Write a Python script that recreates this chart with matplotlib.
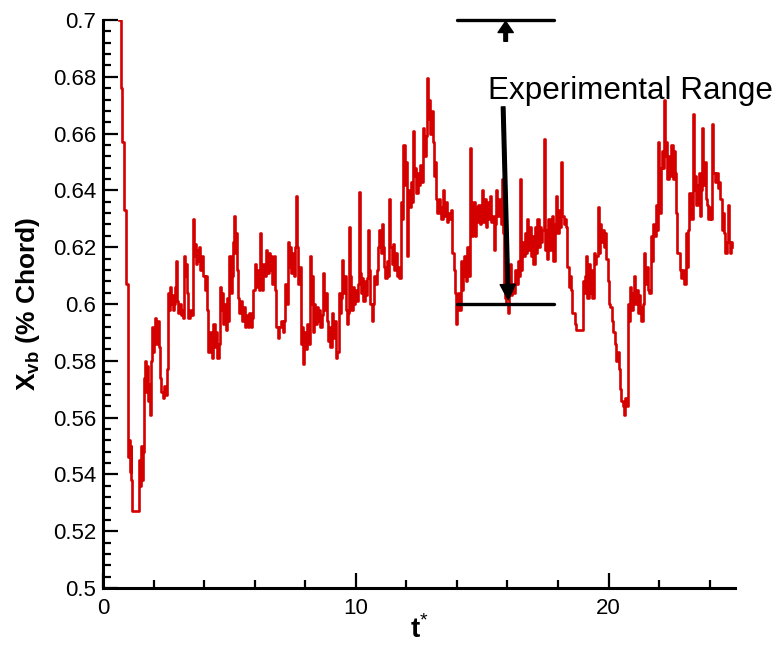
import numpy as np
import matplotlib
matplotlib.use("Agg")
import matplotlib.pyplot as plt

plt.rcParams['font.family'] = ['Liberation Sans', 'DejaVu Sans']
plt.rcParams['mathtext.fontset'] = 'custom'
plt.rcParams['mathtext.rm'] = 'Liberation Sans'
plt.rcParams['mathtext.bf'] = 'Liberation Sans:bold'

# vortex breakdown location vs non-dimensional time
t_star = [
    0.65, 0.70, 0.76, 0.84, 0.92, 0.99,
    1.03, 1.06, 1.09, 1.12, 1.15, 1.42, 1.46, 1.50, 1.54, 1.58,
    1.62, 1.66, 1.70, 1.74, 1.78, 1.82, 1.86, 1.90, 1.94, 1.98,
    2.02, 2.06, 2.10, 2.14, 2.18, 2.22, 2.26, 2.30, 2.36, 2.42, 2.48, 2.53,
    2.57, 2.61, 2.65, 2.69, 2.73, 2.77, 2.81, 2.86, 2.89, 2.93, 2.97,
    3.02, 3.07, 3.12, 3.17, 3.20, 3.24, 3.28, 3.33, 3.38, 3.44, 3.50,
    3.56, 3.60, 3.64, 3.68, 3.72, 3.76, 3.80, 3.85, 3.90, 3.96, 4.02, 4.07, 4.12,
    4.17, 4.22, 4.27, 4.32, 4.37, 4.42, 4.47, 4.52, 4.58, 4.63, 4.67, 4.71, 4.75, 4.80, 4.85,
    4.90, 4.95, 5.00, 5.05, 5.10, 5.15, 5.20, 5.24, 5.28, 5.32,
    5.36, 5.40, 5.45, 5.50, 5.55, 5.60, 5.66, 5.72, 5.78, 5.84, 5.90,
    5.95, 6.00, 6.05, 6.10, 6.16, 6.20, 6.25, 6.30, 6.35, 6.40, 6.45,
    6.50, 6.55, 6.60, 6.65, 6.70, 6.75, 6.80, 6.86, 6.92, 6.97,
    7.05, 7.12, 7.18, 7.22, 7.27, 7.32, 7.36, 7.40, 7.45, 7.50, 7.55, 7.60,
    7.64, 7.68, 7.72, 7.77, 7.82, 7.87, 7.92, 7.97, 8.02, 8.07, 8.12,
    8.18, 8.22, 8.26, 8.30, 8.35, 8.40, 8.45, 8.50, 8.55, 8.60, 8.65,
    8.70, 8.75, 8.80, 8.85, 8.90, 8.95, 9.00, 9.05, 9.10, 9.15, 9.20, 9.27,
    9.32, 9.36, 9.40, 9.46, 9.50, 9.55, 9.60, 9.65, 9.70,
    9.75, 9.79, 9.83, 9.88, 9.93, 9.98, 10.03, 10.08,
    10.12, 10.16, 10.20, 10.25, 10.30, 10.35, 10.40, 10.45, 10.49, 10.53,
    10.58, 10.63, 10.68, 10.73, 10.78, 10.83, 10.88, 10.93, 10.98, 11.03, 11.07,
    11.12, 11.17, 11.22, 11.27, 11.33, 11.37, 11.42, 11.47, 11.52, 11.57,
    11.62, 11.67, 11.72, 11.77, 11.82, 11.88, 11.93, 11.98, 12.03, 12.08, 12.13,
    12.18, 12.23, 12.27, 12.31, 12.36, 12.40, 12.45, 12.50, 12.55, 12.60,
    12.66, 12.71, 12.76, 12.82, 12.86, 12.90, 12.95, 13.00,
    13.04, 13.09, 13.14, 13.18, 13.23, 13.28, 13.33, 13.38, 13.45, 13.50,
    13.55, 13.60, 13.65, 13.70, 13.76, 13.82, 13.88, 13.93, 13.97, 14.01,
    14.05, 14.10, 14.15, 14.20, 14.25, 14.30, 14.36, 14.42, 14.47,
    14.52, 14.56, 14.60, 14.65, 14.70, 14.75, 14.80, 14.85, 14.90, 14.95,
    15.00, 15.05, 15.10, 15.15, 15.20, 15.25, 15.30, 15.35, 15.40, 15.45,
    15.50, 15.55, 15.60, 15.65, 15.70, 15.76, 15.80, 15.84, 15.88, 15.92,
    15.96, 16.01, 16.05, 16.10, 16.15, 16.20, 16.25, 16.30, 16.35, 16.40, 16.45, 16.50, 16.54, 16.58,
    16.63, 16.68, 16.73, 16.78, 16.83, 16.88, 16.93, 16.98, 17.03, 17.08,
    17.13, 17.18, 17.23, 17.28, 17.33, 17.38, 17.43, 17.47, 17.52,
    17.57, 17.62, 17.67, 17.72, 17.77, 17.82, 17.87, 17.92, 17.97, 18.03,
    18.08, 18.12, 18.16, 18.22, 18.28, 18.33, 18.37, 18.42, 18.47,
    18.52, 18.56, 18.61, 18.66, 18.71, 18.90,
    18.97, 19.02, 19.07, 19.12, 19.16, 19.21, 19.26, 19.31, 19.36, 19.42, 19.47,
    19.52, 19.57, 19.61, 19.66, 19.71, 19.76, 19.81, 19.86, 19.91, 19.96, 20.00,
    20.06, 20.12, 20.18, 20.25, 20.30, 20.36, 20.41, 20.45, 20.50,
    20.56, 20.61, 20.66, 20.71, 20.76, 20.80, 20.85, 20.90,
    20.95, 21.00, 21.05, 21.10, 21.15, 21.20, 21.25, 21.30, 21.35,
    21.40, 21.45, 21.50, 21.55, 21.60, 21.66, 21.71, 21.76, 21.81, 21.86, 21.91, 21.95,
    21.99, 22.04, 22.08, 22.12, 22.17, 22.20, 22.24, 22.28, 22.33, 22.38, 22.43,
    22.48, 22.53, 22.58, 22.63, 22.67, 22.71, 22.76, 22.81, 22.86, 22.92, 22.97,
    23.05, 23.10, 23.15, 23.20, 23.26, 23.33, 23.37, 23.42, 23.47, 23.52,
    23.57, 23.62, 23.67, 23.71, 23.75, 23.80, 23.85, 23.90, 23.95, 24.00, 24.05,
    24.10, 24.14, 24.20, 24.27, 24.32, 24.38, 24.42, 24.47, 24.52, 24.57,
    24.62, 24.67, 24.72, 24.76, 24.81, 24.86, 24.90,
]
x_vb = [
    0.700, 0.676, 0.657, 0.633, 0.607, 0.546,
    0.552, 0.541, 0.550, 0.538, 0.527, 0.545, 0.536, 0.550, 0.538, 0.548,
    0.574, 0.580, 0.569, 0.578, 0.566, 0.572, 0.561, 0.580, 0.592, 0.583,
    0.588, 0.595, 0.586, 0.592, 0.594, 0.585, 0.574, 0.569, 0.567, 0.571, 0.568, 0.577,
    0.604, 0.598, 0.606, 0.600, 0.603, 0.598, 0.600, 0.606, 0.615, 0.601, 0.597,
    0.600, 0.596, 0.598, 0.595, 0.617, 0.610, 0.614, 0.604, 0.595, 0.598, 0.596,
    0.630, 0.617, 0.621, 0.614, 0.619, 0.615, 0.620, 0.612, 0.617, 0.610, 0.605, 0.610, 0.598,
    0.583, 0.590, 0.584, 0.581, 0.593, 0.585, 0.590, 0.581, 0.586, 0.606, 0.598, 0.604, 0.593, 0.600, 0.591,
    0.602, 0.594, 0.617, 0.604, 0.610, 0.622, 0.631, 0.618, 0.625, 0.612,
    0.602, 0.597, 0.601, 0.594, 0.599, 0.592, 0.596, 0.592, 0.597, 0.592, 0.595,
    0.605, 0.614, 0.606, 0.612, 0.605, 0.625, 0.612, 0.605, 0.614, 0.610, 0.619,
    0.611, 0.618, 0.612, 0.617, 0.607, 0.617, 0.605, 0.592, 0.588, 0.592,
    0.594, 0.590, 0.594, 0.607, 0.600, 0.622, 0.613, 0.620, 0.611, 0.618, 0.610, 0.620,
    0.638, 0.620, 0.607, 0.613, 0.586, 0.592, 0.579, 0.590, 0.584, 0.593, 0.586,
    0.617, 0.600, 0.610, 0.590, 0.600, 0.593, 0.599, 0.594, 0.598, 0.592, 0.596,
    0.611, 0.598, 0.604, 0.594, 0.587, 0.592, 0.585, 0.597, 0.588, 0.594, 0.581, 0.583,
    0.604, 0.597, 0.602, 0.6155, 0.604, 0.610, 0.598, 0.593, 0.597,
    0.627, 0.610, 0.598, 0.606, 0.600, 0.605, 0.601, 0.607,
    0.6395, 0.611, 0.604, 0.609, 0.601, 0.608, 0.603, 0.609, 0.626, 0.612,
    0.600, 0.594, 0.600, 0.610, 0.607, 0.612, 0.620, 0.626, 0.618, 0.628, 0.620,
    0.613, 0.609, 0.615, 0.610, 0.637, 0.620, 0.614, 0.621, 0.612, 0.618,
    0.610, 0.613, 0.609, 0.636, 0.630, 0.656, 0.642, 0.650, 0.617, 0.640, 0.634,
    0.643, 0.636, 0.661, 0.645, 0.648, 0.639, 0.646, 0.642, 0.649, 0.643,
    0.662, 0.652, 0.659, 0.6795, 0.665, 0.672, 0.660, 0.668,
    0.657, 0.645, 0.650, 0.637, 0.632, 0.637, 0.634, 0.630, 0.640, 0.631,
    0.636, 0.629, 0.632, 0.630, 0.633, 0.618, 0.612, 0.604, 0.593, 0.600,
    0.604, 0.598, 0.615, 0.605, 0.610, 0.617, 0.608, 0.620, 0.610,
    0.655, 0.630, 0.624, 0.636, 0.624, 0.634, 0.629, 0.635, 0.628, 0.633,
    0.640, 0.629, 0.637, 0.627, 0.636, 0.630, 0.638, 0.629, 0.631, 0.619,
    0.628, 0.640, 0.631, 0.637, 0.632, 0.628, 0.644, 0.625, 0.606, 0.602,
    0.600, 0.597, 0.604, 0.614, 0.603, 0.607, 0.604, 0.612, 0.607, 0.615, 0.610, 0.644, 0.612, 0.622,
    0.617, 0.625, 0.618, 0.630, 0.619, 0.627, 0.617, 0.624, 0.614, 0.627,
    0.618, 0.630, 0.620, 0.627, 0.622, 0.626, 0.658, 0.619, 0.626,
    0.616, 0.630, 0.619, 0.628, 0.631, 0.615, 0.628, 0.638, 0.625, 0.633,
    0.627, 0.650, 0.631, 0.628, 0.630, 0.627, 0.613, 0.606, 0.610,
    0.605, 0.597, 0.597, 0.593, 0.591, 0.591,
    0.608, 0.604, 0.610, 0.617, 0.602, 0.614, 0.604, 0.612, 0.602, 0.618, 0.614,
    0.617, 0.634, 0.618, 0.628, 0.622, 0.626, 0.620, 0.625, 0.616, 0.608, 0.600,
    0.599, 0.594, 0.590, 0.586, 0.580, 0.583, 0.577, 0.570, 0.566,
    0.564, 0.561, 0.567, 0.564, 0.600, 0.594, 0.606, 0.598,
    0.604, 0.610, 0.600, 0.605, 0.597, 0.603, 0.599, 0.594, 0.600,
    0.618, 0.607, 0.613, 0.605, 0.604, 0.624, 0.615, 0.628, 0.624, 0.635, 0.626, 0.657,
    0.640, 0.632, 0.648, 0.654, 0.648, 0.672, 0.652, 0.657, 0.644, 0.652, 0.645,
    0.656, 0.644, 0.654, 0.646, 0.632, 0.618, 0.618, 0.612, 0.609, 0.612, 0.607,
    0.625, 0.613, 0.626, 0.639, 0.630, 0.667, 0.640, 0.645, 0.635, 0.642,
    0.646, 0.631, 0.640, 0.662, 0.642, 0.650, 0.637, 0.635, 0.630, 0.634, 0.630,
    0.6635, 0.646, 0.643, 0.646, 0.641, 0.643, 0.637, 0.626, 0.632, 0.625,
    0.618, 0.622, 0.635, 0.622, 0.618, 0.622, 0.620,
]

# experimental range of the breakdown location
exp_t = [14.0, 17.85]
exp_range = [0.6, 0.7]

fig = plt.figure(figsize=(7.76, 6.51), dpi=100)
ax = fig.add_axes([0.1327, 0.0968, 0.8144, 0.8725])

ax.plot(np.array(t_star), np.array(x_vb), color='#d40000', lw=1.9,
        drawstyle='steps-post', zorder=2)

# range bars
for yv in exp_range:
    ax.plot(exp_t, [yv, yv], color='k', lw=2.4, solid_capstyle='round',
            clip_on=False, zorder=3)

ax.text(15.24, 0.6722, 'Experimental Range', fontsize=22.6, color='k',
        ha='left', va='baseline', clip_on=False)
ax.annotate('', xy=(16.03, 0.6015), xytext=(15.83, 0.6694),
            arrowprops=dict(facecolor='k', edgecolor='k', width=2.6,
                            headwidth=11, headlength=11, shrink=0))
ax.annotate('', xy=(15.93, 0.6995), xytext=(15.93, 0.6925),
            arrowprops=dict(facecolor='k', edgecolor='k', width=2.6,
                            headwidth=11, headlength=8, shrink=0),
            annotation_clip=False)

ax.set_xlim(0, 25)
ax.set_ylim(0.5, 0.7)
ax.set_xticks([0, 10, 20])
ax.set_xticks(np.arange(0, 25, 2), minor=True)
ax.set_yticks(np.arange(0.5, 0.7001, 0.02))
ax.set_yticks(np.arange(0.5, 0.7001, 0.004), minor=True)
ax.set_yticklabels(['%g' % round(v, 2) for v in np.arange(0.5, 0.7001, 0.02)])

ax.spines['top'].set_visible(False)
ax.spines['right'].set_visible(False)
ax.spines['left'].set_linewidth(2.2)
ax.spines['bottom'].set_linewidth(2.2)
ax.tick_params(which='both', direction='in', width=1.6, labelsize=16)
ax.tick_params(which='major', length=11, pad=5)
ax.tick_params(which='minor', length=6)
ax.tick_params(axis='x', which='major', pad=7)

ax.set_xlabel(r'$\mathbf{t}^{*}$', fontsize=20, labelpad=-2)
ax.set_ylabel(r'$\mathbf{X}_{\mathbf{vb}}$ (% Chord)', fontsize=19,
              fontweight='bold', labelpad=8)

fig.savefig('out.png', dpi=100)
